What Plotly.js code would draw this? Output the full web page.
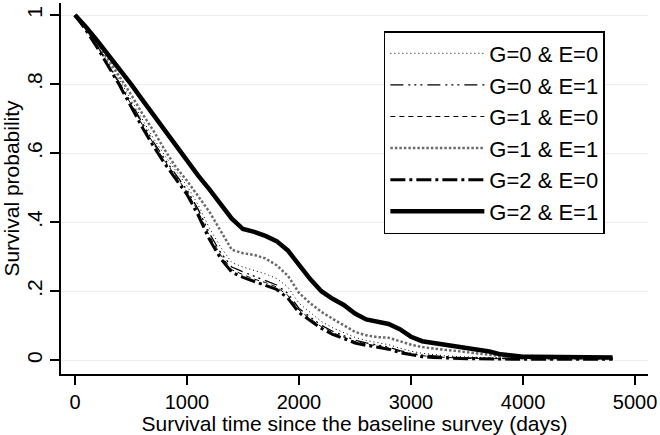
<!DOCTYPE html>
<html>
<head>
<meta charset="utf-8">
<script src="https://cdn.plot.ly/plotly-3.0.1.min.js"></script>
<style>
html,body{margin:0;padding:0;background:#fff;}
#chart{width:660px;height:435px;}
</style>
</head>
<body>
<div id="chart"></div>
<script>
// Survival time (days)
var days = [0,100,200,300,400,500,600,700,800,900,
  1000,1100,1200,1300,1400,1500,1600,1700,1800,1900,
  2000,2100,2200,2300,2400,2500,2600,2700,2800,2900,
  3000,3100,3200,3300,3400,3500,3600,3700,3800,3900,
  4000,4100,4200,4300,4400,4500,4600,4700,4800];

var seriesNames = ["G=0 & E=0","G=0 & E=1","G=1 & E=0","G=1 & E=1","G=2 & E=0","G=2 & E=1"];

var survG0E0 = [1.000,0.960,0.913,0.862,0.810,0.755,0.698,0.643,0.594,0.550,
  0.505,0.450,0.383,0.328,0.283,0.270,0.260,0.250,0.237,0.212,
  0.165,0.138,0.112,0.094,0.079,0.066,0.057,0.051,0.045,0.035,
  0.026,0.020,0.016,0.013,0.011,0.009,0.008,0.007,0.006,0.006,
  0.006,0.006,0.006,0.006,0.006,0.006,0.006,0.006,0.006];

var survG0E1 = [1.000,0.958,0.910,0.857,0.804,0.747,0.688,0.633,0.583,0.538,
  0.493,0.437,0.368,0.312,0.270,0.256,0.243,0.232,0.218,0.194,
  0.150,0.125,0.101,0.084,0.070,0.058,0.050,0.044,0.038,0.028,
  0.020,0.015,0.012,0.010,0.008,0.007,0.006,0.005,0.005,0.005,
  0.005,0.005,0.005,0.005,0.005,0.005,0.005,0.005,0.005];

var survG1E0 = [1.000,0.957,0.908,0.854,0.800,0.742,0.683,0.628,0.578,0.533,
  0.488,0.430,0.360,0.305,0.262,0.248,0.235,0.225,0.212,0.188,
  0.145,0.120,0.097,0.080,0.066,0.054,0.047,0.041,0.035,0.025,
  0.018,0.013,0.010,0.008,0.006,0.005,0.005,0.004,0.004,0.004,
  0.004,0.004,0.004,0.004,0.004,0.004,0.004,0.004,0.004];

var survG1E1 = [1.000,0.960,0.915,0.870,0.820,0.770,0.715,0.665,0.610,0.560,
  0.520,0.475,0.430,0.375,0.320,0.310,0.305,0.295,0.275,0.245,
  0.195,0.165,0.140,0.120,0.100,0.082,0.072,0.067,0.065,0.055,
  0.045,0.038,0.033,0.030,0.027,0.024,0.020,0.016,0.012,0.008,
  0.006,0.006,0.006,0.006,0.006,0.006,0.006,0.006,0.005];

var survG2E0 = [1.000,0.955,0.905,0.850,0.795,0.735,0.675,0.620,0.570,0.525,
  0.480,0.420,0.350,0.295,0.255,0.240,0.228,0.218,0.205,0.180,
  0.138,0.115,0.092,0.075,0.062,0.050,0.043,0.038,0.032,0.022,
  0.015,0.010,0.008,0.006,0.004,0.004,0.004,0.003,0.003,0.003,
  0.003,0.003,0.003,0.003,0.003,0.003,0.003,0.003,0.003];

var survG2E1 = [1.000,0.965,0.925,0.885,0.845,0.800,0.755,0.710,0.665,0.620,
  0.578,0.535,0.495,0.455,0.410,0.380,0.372,0.360,0.345,0.318,
  0.275,0.235,0.200,0.178,0.160,0.135,0.118,0.110,0.105,0.090,
  0.068,0.055,0.050,0.045,0.040,0.035,0.032,0.025,0.017,0.012,
  0.010,0.010,0.010,0.010,0.010,0.010,0.010,0.010,0.008];

var yTickVals = [0,0.2,0.4,0.6,0.8,1];
var yTickText = ["0",".2",".4",".6",".8","1"];
var xTickVals = [0,1000,2000,3000,4000,5000];

var allSeries = [survG0E0,survG0E1,survG1E0,survG1E1,survG2E0,survG2E1];
var styles = [
  {color:"#000", width:1, dash:"1px,3px"},
  {color:"#000", width:1.3, dash:"13px,5px,2px,4px,2px,4px,2px,5px"},
  {color:"#000", width:1, dash:"5px,4px"},
  {color:"#6a6a6a", width:2.5, dash:"2.5px,2px"},
  {color:"#000", width:3, dash:"15px,4px,3px,4px"},
  {color:"#000", width:4.5, dash:"solid"}
];

var traces = allSeries.map(function(s,i){
  return {
    x: days, y: s, type:"scatter", mode:"lines",
    name: seriesNames[i], legendgroup: "g"+i,
    line: styles[i]
  };
});

var font = "Liberation Sans, Arial, Helvetica, sans-serif";
var layout = {
  width:660, height:435,
  margin:{l:61, r:12, t:3, b:61},
  paper_bgcolor:"#fff", plot_bgcolor:"#fff",
  font:{family:font, size:21, color:"#000"},
  showlegend:true,
  legend:{
    x:0.55, y:0.9245, xanchor:"left", yanchor:"top",
    bordercolor:"#000", borderwidth:1.5, bgcolor:"#fff",
    font:{family:font, size:22, color:"#000"},
    itemwidth:94, traceorder:"grouped", tracegroupgap:0
  },
  xaxis:{
    range:[-125,5116], tickvals:xTickVals, ticks:"outside", ticklen:9, tickwidth:1.5, tickcolor:"#000",
    showline:true, linecolor:"#000", linewidth:2, showgrid:false, zeroline:false,
    tickfont:{size:20},
    title:{text:"Survival time since the baseline survey (days)", font:{size:21}, standoff:1}
  },
  yaxis:{
    range:[-0.04,1.035], tickvals:yTickVals, ticktext:yTickText, tickangle:-90,
    ticks:"outside", ticklen:9, tickwidth:1.5, tickcolor:"#000",
    showline:true, linecolor:"#000", linewidth:2, showgrid:true, gridcolor:"#ececec", gridwidth:1, zeroline:false,
    tickfont:{size:21},
    title:{text:"Survival probability", font:{size:21}, standoff:3}
  }
};

Plotly.newPlot("chart", traces, layout, {staticPlot:true, displayModeBar:false});
</script>
</body>
</html>
